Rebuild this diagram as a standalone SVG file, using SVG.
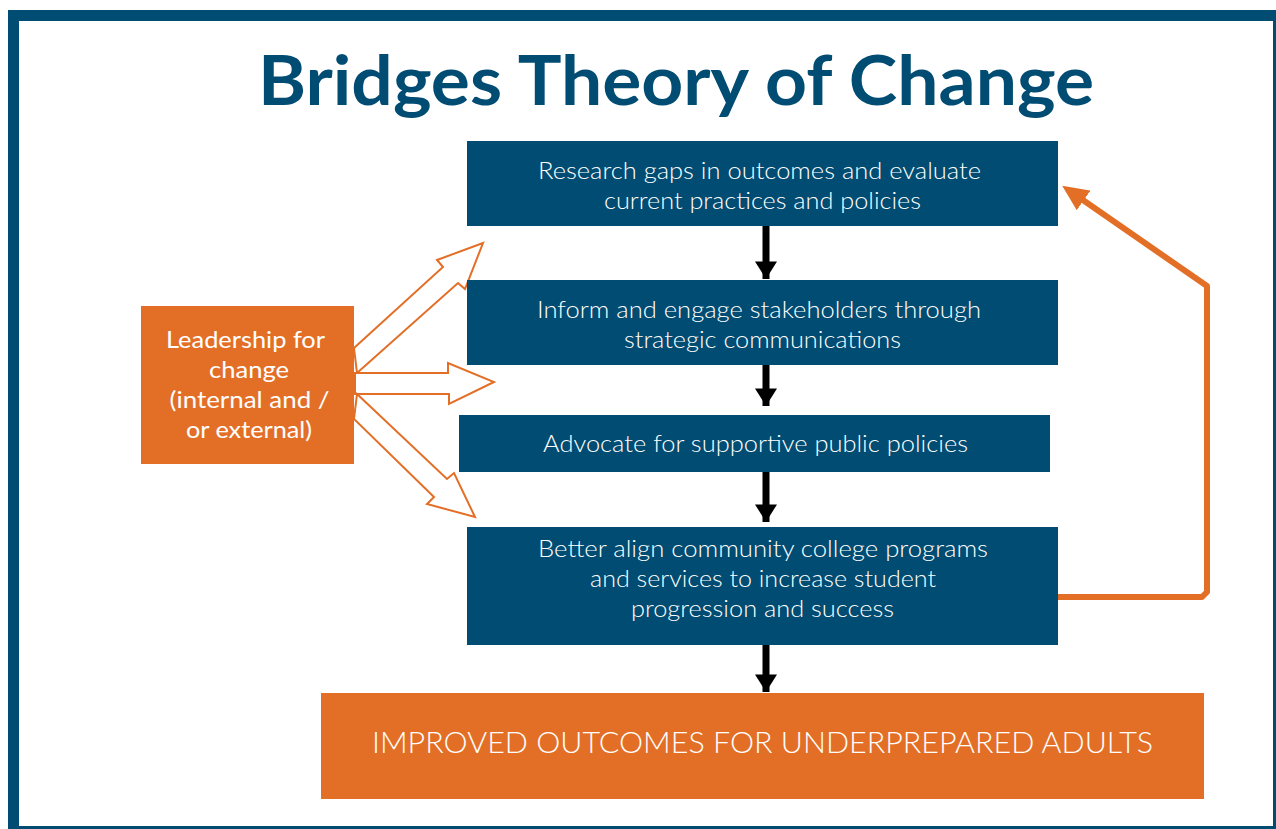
<svg xmlns="http://www.w3.org/2000/svg" width="1276" height="829" viewBox="0 0 1276 829">
<style>
.blue{fill:#014c72}
.orange{fill:#e36f27}
.t{font-family:Lato,"Open Sans","Liberation Sans",sans-serif;fill:#fff;text-anchor:middle}
.bt{font-size:24px;font-weight:300}
.lt{font-size:23px;font-weight:400}
.title{font-family:Lato,"Open Sans","Liberation Sans",sans-serif;font-weight:700;font-size:68px;fill:#014c72;text-anchor:middle}
.down{stroke:#000;stroke-width:7;fill:none;marker-end:url(#bh)}
.block{fill:#fff;stroke:#e36f27;stroke-width:2;stroke-linejoin:miter}
.fb{fill:none;stroke:#e36f27;stroke-width:6;stroke-linejoin:round}
</style>
<defs>
<marker id="bh" markerUnits="userSpaceOnUse" markerWidth="22" markerHeight="22" refX="16" refY="10" orient="auto" viewBox="0 0 16 20">
<path d="M0,0 L16,10 L0,20 Z" fill="#000"/>
</marker>
<marker id="oh" markerUnits="userSpaceOnUse" markerWidth="26" markerHeight="24" refX="4" refY="11" orient="auto" viewBox="0 0 24 22">
<path d="M0,0 L24,11 L0,22 Z" fill="#e36f27"/>
</marker>
</defs>
<rect x="13.5" y="15.5" width="1265" height="816" fill="#fff" stroke="#014c72" stroke-width="11"/>
<text class="title" x="676" y="105" textLength="836" lengthAdjust="spacingAndGlyphs">Bridges Theory of Change</text>

<g id="connectors">
<line class="down" x1="766" y1="226" x2="766" y2="279"/>
<line class="down" x1="766" y1="365" x2="766" y2="406"/>
<line class="down" x1="766" y1="472" x2="766" y2="522"/>
<line class="down" x1="766" y1="645" x2="766" y2="692"/>
<polyline class="fb" points="1058,597 1202,597 1207,592 1207,286 1080,198" marker-end="url(#oh)"/>
<polygon class="block" points="354,348 443,267 437,260 483,243 465,289 458,283 357,373"/>
<polygon class="block" points="355,373 448,373 448,363 494,382 449,404 449,394 355,394"/>
<polygon class="block" points="357,394 447,479 454,473 475,517 427,504 434,497 354,419"/>
</g>

<g id="n1">
<rect class="blue" x="467" y="141" width="591" height="85"/>
<text class="t bt" x="759.5" y="179" textLength="443" lengthAdjust="spacingAndGlyphs">Research gaps in outcomes and evaluate</text>
<text class="t bt" x="762.5" y="209" textLength="317" lengthAdjust="spacingAndGlyphs">current practices and policies</text>
</g>
<g id="n2">
<rect class="blue" x="467" y="280" width="591" height="85"/>
<text class="t bt" x="759" y="318" textLength="444" lengthAdjust="spacingAndGlyphs">Inform and engage stakeholders through</text>
<text class="t bt" x="762.5" y="348" textLength="277" lengthAdjust="spacingAndGlyphs">strategic communications</text>
</g>
<g id="n3">
<rect class="blue" x="459" y="415" width="591" height="57"/>
<text class="t bt" x="755.5" y="452" textLength="425" lengthAdjust="spacingAndGlyphs">Advocate for supportive public policies</text>
</g>
<g id="n4">
<rect class="blue" x="467" y="527" width="591" height="118"/>
<text class="t bt" x="763" y="557" textLength="450" lengthAdjust="spacingAndGlyphs">Better align community college programs</text>
<text class="t bt" x="763" y="587" textLength="346" lengthAdjust="spacingAndGlyphs">and services to increase student</text>
<text class="t bt" x="762.5" y="617" textLength="263" lengthAdjust="spacingAndGlyphs">progression and success</text>
</g>
<g id="leader">
<rect class="orange" x="141" y="306" width="213" height="158"/>
<text class="t lt" x="245.5" y="348" textLength="159" lengthAdjust="spacingAndGlyphs">Leadership for</text>
<text class="t lt" x="249" y="378" textLength="80" lengthAdjust="spacingAndGlyphs">change</text>
<text class="t lt" x="249.5" y="408" textLength="160" lengthAdjust="spacingAndGlyphs">(internal and /</text>
<text class="t lt" x="249" y="438" textLength="126" lengthAdjust="spacingAndGlyphs">or external)</text>
</g>
<g id="outcome">
<rect class="orange" x="321" y="693" width="883" height="106"/>
<text class="t" font-size="29" font-weight="300" x="762.5" y="753" textLength="781" lengthAdjust="spacingAndGlyphs">IMPROVED OUTCOMES FOR UNDERPREPARED ADULTS</text>
</g>
</svg>
